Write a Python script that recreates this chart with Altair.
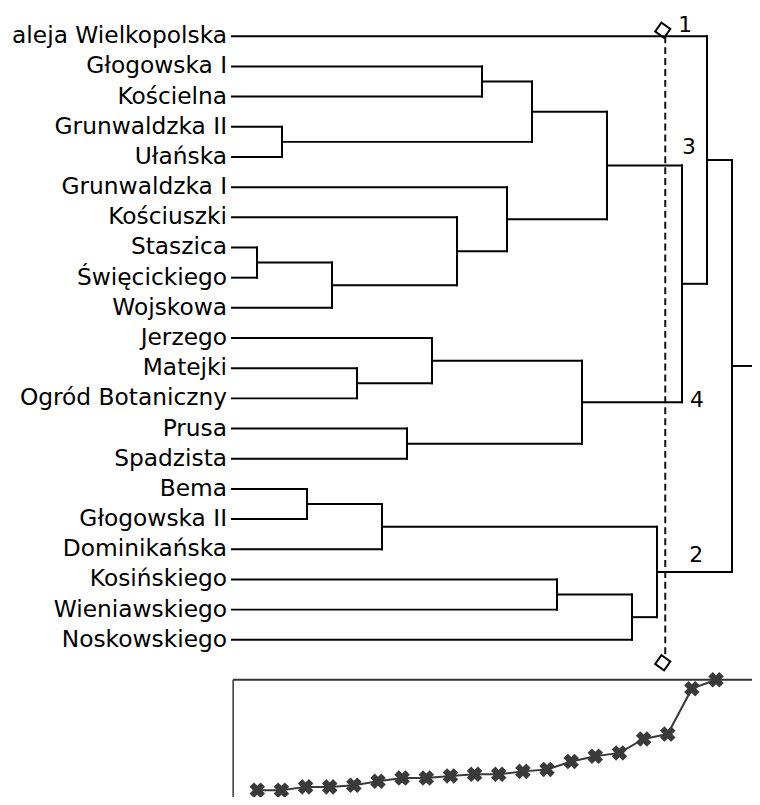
import altair as alt
import pandas as pd

# ---------------- data ----------------
leaves = ["aleja Wielkopolska", "Głogowska I", "Kościelna", "Grunwaldzka II", "Ułańska",
          "Grunwaldzka I", "Kościuszki", "Staszica", "Święcickiego", "Wojskowa",
          "Jerzego", "Matejki", "Ogród Botaniczny", "Prusa", "Spadzista",
          "Bema", "Głogowska II", "Dominikańska", "Kosińskiego", "Wieniawskiego", "Noskowskiego"]

# agglomeration steps (1..20): children are leaf names or "#k" = result of step k
merge_a = ["Staszica", "Grunwaldzka II", "Bema", "#1", "Matejki", "#3", "Prusa", "Jerzego",
           "Kościuszki", "Głogowska I", "Grunwaldzka I", "#10", "Kosińskiego", "#8", "#12",
           "#13", "#6", "#15", "aleja Wielkopolska", "#19"]
merge_b = ["Święcickiego", "Ułańska", "Głogowska II", "Wojskowa", "Ogród Botaniczny",
           "Dominikańska", "Spadzista", "#5", "#4", "Kościelna", "#9", "#2", "Wieniawskiego",
           "#7", "#11", "Noskowskiego", "#16", "#14", "#18", "#17"]
merge_distance = [0.32, 0.32, 0.61, 0.61, 0.76, 1.10, 1.39, 1.39, 1.57, 1.71,
                  1.71, 1.97, 2.14, 2.84, 3.30, 3.59, 4.81, 5.24, 9.22, 10.0]

cluster_ids = ["1", "3", "4", "2"]
cluster_nodes = ["aleja Wielkopolska", "#15", "#14", "#17"]
cut_level = 17.33

# ---------------- layout (styling) ----------------
W = 750
H = 789
X_MAX_TOP = 20.80
label_dx = [0.80, 0.95, 1.27, 1.24]
label_dy = [-0.37, -0.60, -0.07, -0.55]
FONT = "DejaVu Sans"

pos = {name: (0.0, float(i)) for i, name in enumerate(leaves)}
segs = []
for k, (a, b) in enumerate(zip(merge_a, merge_b), start=1):
    xa, ya = pos[a]
    xb, yb = pos[b]
    segs.append(dict(x=xa, x2=float(k), y=ya, y2=ya))
    segs.append(dict(x=xb, x2=float(k), y=yb, y2=yb))
    segs.append(dict(x=float(k), x2=float(k), y=ya, y2=yb))
    pos[f"#{k}"] = (float(k), (ya + yb) / 2)
n = len(merge_a)
root_y = pos[f"#{n}"][1]
segs.append(dict(x=float(n), x2=X_MAX_TOP, y=root_y, y2=root_y))
seg_df = pd.DataFrame(segs)

leaf_df = pd.DataFrame({"name": leaves, "idx": list(range(len(leaves))), "zero": 0.0})

clu_df = pd.DataFrame({
    "lab": cluster_ids,
    "x": [cut_level + d for d in label_dx],
    "y": [pos[nd][1] + d for nd, d in zip(cluster_nodes, label_dy)],
})

cut_df = pd.DataFrame({"x": [cut_level], "y": [0.0], "y2": [len(leaves) - 1 + 0.6]})
dia_df = pd.DataFrame({"x": [cut_level - 0.1, cut_level - 0.1],
                       "y": [-0.2, len(leaves) - 1 + 0.76]})

# top (dendrogram) scales
xs_top = alt.Scale(domain=[-8.96, X_MAX_TOP], range=[0, W], nice=False, zero=False)
ys_top = alt.Scale(domain=[-0.832, 20.93], range=[0, 662], nice=False, zero=False)


def X(f):
    return alt.X(f, scale=xs_top, axis=None)


def Y(f):
    return alt.Y(f, scale=ys_top, axis=None)


tree = alt.Chart(seg_df).mark_rule(color="black", strokeWidth=2, strokeCap="square").encode(
    x=X("x:Q"), x2="x2:Q", y=Y("y:Q"), y2="y2:Q",
)

labels = alt.Chart(leaf_df).mark_text(
    align="right", baseline="middle", dx=-5, font=FONT, fontSize=23.5, color="black"
).encode(x=X("zero:Q"), y=Y("idx:Q"), text="name:N")

cut = alt.Chart(cut_df).mark_rule(strokeDash=[7, 4], strokeWidth=2, color="#111111").encode(
    x=X("x:Q"), y=Y("y:Q"), y2="y2:Q",
)

diamonds = alt.Chart(dia_df).mark_point(
    shape="square", angle=35, size=120, filled=False, color="black", strokeWidth=2, opacity=1
).encode(x=X("x:Q"), y=Y("y:Q"))

clu_text = alt.Chart(clu_df).mark_text(
    align="center", baseline="middle", font=FONT, fontSize=22, color="black"
).encode(x=X("x:Q"), y=Y("y:Q"), text="lab:N")

# ---------------- bottom panel (agglomeration distances) ----------------
step_df = pd.DataFrame({"step": list(range(1, n + 1)), "dist": merge_distance})
xs_bot = alt.Scale(domain=[-9.325, 21.49], range=[0, W], nice=False, zero=False)
ys_bot = alt.Scale(domain=[0, 10], range=[789, 674], nice=False, zero=False)


def XB(f):
    return alt.X(f, scale=xs_bot, axis=None)


def YB(f):
    return alt.Y(f, scale=ys_bot, axis=None)


frame_df = pd.DataFrame({"x": [0.0], "y": [max(merge_distance)], "x2": [21.49], "y2": [-1.0]})

frame_h = alt.Chart(frame_df).mark_rule(color="#333333", strokeWidth=2).encode(
    x=XB("x:Q"), x2="x2:Q", y=YB("y:Q"),
)
frame_v = alt.Chart(frame_df).mark_rule(color="#333333", strokeWidth=1.5).encode(
    x=XB("x:Q"), y=YB("y:Q"), y2="y2:Q",
)
line = alt.Chart(step_df).mark_line(color="#3a3a3a", strokeWidth=2).encode(
    x=XB("step:Q"), y=YB("dist:Q"),
)
pts = alt.Chart(step_df).mark_point(
    shape="cross", angle=45, size=250, filled=True, color="#3a3a3a", opacity=1
).encode(x=XB("step:Q"), y=YB("dist:Q"))

top = alt.layer(tree, labels, cut, diamonds, clu_text)
bottom = alt.layer(frame_h, frame_v, line, pts)

chart = (
    alt.layer(top, bottom)
    .resolve_scale(x="independent", y="independent")
    .properties(width=W, height=H, padding=0, autosize=alt.AutoSizeParams(type="none"))
    .configure_view(strokeWidth=0)
)

chart.save("out.html", embed_options={"renderer": "svg", "actions": False})
